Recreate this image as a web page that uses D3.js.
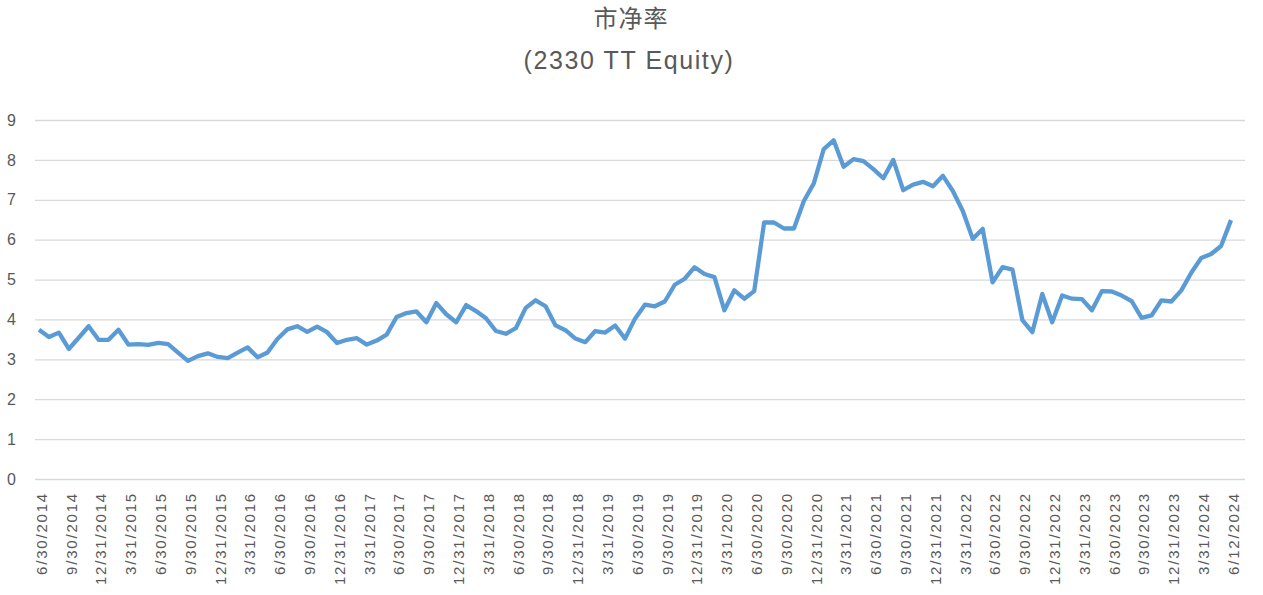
<!DOCTYPE html>
<meta charset="utf-8">
<style>
body {
  margin: 0;
  background-color: #fff;
}
svg {
  display: block;
}
text {
  fill: #595959;
  font-family: "Liberation Sans", Arial, sans-serif;
}
.title {
  font-family: "Noto Sans CJK SC", sans-serif;
  font-size: 24px;
  letter-spacing: 1px;
}
.subtitle {
  font-size: 25px;
  letter-spacing: 1.6px;
}
.grid line {
  stroke: #d9d9d9;
  stroke-width: 1.3px;
}
.grid path {
  stroke: none;
}
.axis text {
  font-size: 15px;
}
.grid text {
  font-size: 16px;
}
.axis--x text {
  letter-spacing: 1.8px;
}
.line {
  fill: none;
  stroke: #5b9bd5;
  stroke-width: 4.3px;
  stroke-linejoin: round;
}
</style>
<body>
<script src="https://d3js.org/d3.v7.min.js"></script>
<script>
// tick labels, one every 3 points (quarter ends, last one is 6/12/2024)
var tickLabels = [
  "6/30/2014", "9/30/2014", "12/31/2014",
  "3/31/2015", "6/30/2015", "9/30/2015", "12/31/2015",
  "3/31/2016", "6/30/2016", "9/30/2016", "12/31/2016",
  "3/31/2017", "6/30/2017", "9/30/2017", "12/31/2017",
  "3/31/2018", "6/30/2018", "9/30/2018", "12/31/2018",
  "3/31/2019", "6/30/2019", "9/30/2019", "12/31/2019",
  "3/31/2020", "6/30/2020", "9/30/2020", "12/31/2020",
  "3/31/2021", "6/30/2021", "9/30/2021", "12/31/2021",
  "3/31/2022", "6/30/2022", "9/30/2022", "12/31/2022",
  "3/31/2023", "6/30/2023", "9/30/2023", "12/31/2023",
  "3/31/2024", "6/12/2024"
];

// monthly P/B values
var pbValues = [
  3.74, 3.56, 3.67, 3.26, 3.54, 3.83, 3.49, 3.49, 3.74, 3.37,
  3.38, 3.36, 3.41, 3.38, 3.17, 2.96, 3.08, 3.15, 3.06, 3.03,
  3.17, 3.30, 3.05, 3.17, 3.51, 3.75, 3.83, 3.69, 3.82, 3.68,
  3.41, 3.49, 3.53, 3.37, 3.47, 3.62, 4.06, 4.16, 4.20, 3.93,
  4.41, 4.13, 3.93, 4.36, 4.21, 4.03, 3.71, 3.64, 3.78, 4.29,
  4.48, 4.33, 3.85, 3.73, 3.52, 3.43, 3.71, 3.67, 3.85, 3.52,
  4.02, 4.37, 4.33, 4.45, 4.87, 5.02, 5.31, 5.14, 5.06, 4.23,
  4.73, 4.52, 4.71, 6.43, 6.43, 6.28, 6.28, 6.97, 7.41, 8.27,
  8.49, 7.83, 8.02, 7.97, 7.77, 7.54, 8.00, 7.24, 7.38, 7.45,
  7.34, 7.60, 7.22, 6.72, 6.02, 6.27, 4.93, 5.31, 5.25, 3.98,
  3.68, 4.64, 3.93, 4.60, 4.52, 4.51, 4.23, 4.71, 4.70, 4.60,
  4.46, 4.04, 4.10, 4.48, 4.45, 4.73, 5.17, 5.54, 5.64, 5.84,
  6.49
];

var yTicks = [0, 1, 2, 3, 4, 5, 6, 7, 8, 9];

var width = 1263,
    height = 595;

var svg = d3.select("body").append("svg")
    .attr("width", width)
    .attr("height", height);

// titles
svg.append("text")
    .attr("class", "title")
    .attr("x", 631)
    .attr("y", 27)
    .attr("text-anchor", "middle")
    .text("市净率");

svg.append("text")
    .attr("class", "subtitle")
    .attr("x", 629)
    .attr("y", 69)
    .attr("text-anchor", "middle")
    .text("(2330 TT Equity)");

// scales
var x = d3.scalePoint()
    .domain(d3.range(pbValues.length))
    .range([39, 1231]);

var y = d3.scaleLinear()
    .domain([0, 9])
    .range([479, 120]);

// horizontal grid + y labels
svg.append("g")
    .attr("class", "grid axis")
    .attr("transform", "translate(35,0)")
    .call(d3.axisLeft(y)
            .tickValues(yTicks)
            .tickSize(-1210)
            .tickPadding(19)
            .tickFormat(d3.format("d")))
    .call(function(g) { g.select(".domain").remove(); });

// x labels, rotated
var xAxis = svg.append("g")
    .attr("class", "axis axis--x")
    .attr("transform", "translate(2,479)")
    .call(d3.axisBottom(x)
            .tickValues(d3.range(0, pbValues.length, 3))
            .tickSize(0)
            .tickFormat(function(d) { return tickLabels[d / 3]; }));

xAxis.select(".domain").remove();

xAxis.selectAll("text")
    .attr("transform", "rotate(-90)")
    .attr("x", -13)
    .attr("y", 0)
    .attr("dy", "0.35em")
    .attr("text-anchor", "end");

// the line
var line = d3.line()
    .x(function(d, i) { return x(i); })
    .y(function(d) { return y(d); });

svg.append("path")
    .datum(pbValues)
    .attr("class", "line")
    .attr("d", line);
</script>
</body>
